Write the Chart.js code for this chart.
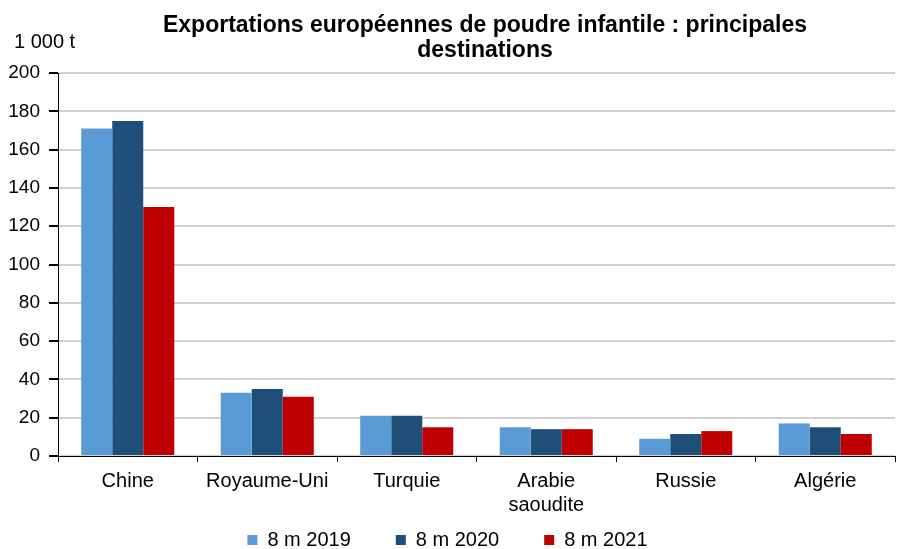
<!DOCTYPE html>
<html>
<head>
<meta charset="utf-8">
<script src="https://cdn.jsdelivr.net/npm/chart.js@4/dist/chart.umd.min.js"></script>
<style>
  body { margin: 0; background: #fff; }
  #wrap { width: 902px; height: 549px; }
</style>
</head>
<body>
<div id="wrap"><canvas id="chart"></canvas></div>
<script>
const categories = ['Chine', 'Royaume-Uni', 'Turquie', ['Arabie', 'saoudite'], 'Russie', 'Algérie'];
const seriesNames = ['8 m 2019', '8 m 2020', '8 m 2021'];
const values2019 = [171, 33, 21, 15, 9, 17];
const values2020 = [175, 35, 21, 14, 11.5, 15];
const values2021 = [130, 31, 15, 14, 13, 11.5];
const seriesColors = ['#5b9bd5', '#1f4e79', '#c00000'];
const yTicks = [0, 20, 40, 60, 80, 100, 120, 140, 160, 180, 200];

const fontFamily = '"Liberation Sans", Arial, sans-serif';
Chart.defaults.font.family = fontFamily;
Chart.defaults.color = '#000';

// --- title and unit drawn above the plot
const headerPlugin = {
    id: 'header',
    beforeDraw(chart) {
        // let the category labels run below the (short) x axis box
        chart.scales.x.bottom = chart.height;
    },
    afterDraw(chart) {
        const ctx = chart.ctx;
        ctx.save();
        ctx.fillStyle = '#000';
        ctx.textBaseline = 'middle';
        ctx.textAlign = 'center';
        ctx.font = 'bold 23px ' + fontFamily;
        ctx.fillText('Exportations européennes de poudre infantile : principales', 485, 26);
        ctx.fillText('destinations', 485, 51);
        ctx.textAlign = 'left';
        ctx.font = '20px ' + fontFamily;
        ctx.fillText('1 000 t', 14, 42);
        ctx.restore();
    }
};

new Chart(document.getElementById('chart').getContext('2d'), {
    type: 'bar',
    data: {
        labels: categories,
        datasets: [values2019, values2020, values2021].map((d, i) => ({
            label: seriesNames[i],
            data: d,
            backgroundColor: seriesColors[i],
            categoryPercentage: 0.667,
            barPercentage: 1
        }))
    },
    options: {
        responsive: true,
        maintainAspectRatio: false,
        animation: false,
        layout: { padding: { top: 73, right: 7, left: 0, bottom: 0 } },
        plugins: {
            title: { display: false },
            tooltip: { enabled: false },
            legend: {
                position: 'bottom',
                maxHeight: 64,
                labels: {
                    boxWidth: 10,
                    boxHeight: 10,
                    padding: 45,
                    font: { size: 20 }
                }
            }
        },
        scales: {
            x: {
                grid: {
                    offset: true,
                    drawOnChartArea: false,
                    drawTicks: true,
                    tickLength: 6,
                    tickColor: '#000'
                },
                border: { color: '#000', width: 1 },
                ticks: { font: { size: 20 }, padding: 7, maxRotation: 0, autoSkip: false },
                afterFit(s) { s.height = 29; }
            },
            y: {
                min: 0,
                max: 200,
                afterBuildTicks(s) { s.ticks = yTicks.map(v => ({ value: v })); },
                grid: {
                    color: '#d0d0d0',
                    tickColor: '#000',
                    tickLength: 9,
                    lineWidth: 2
                },
                border: { color: '#000', width: 1 },
                ticks: { font: { size: 19 }, padding: 9 },
                afterFit(s) { s.width = 58; }
            }
        }
    },
    plugins: [headerPlugin]
});
</script>
</body>
</html>
